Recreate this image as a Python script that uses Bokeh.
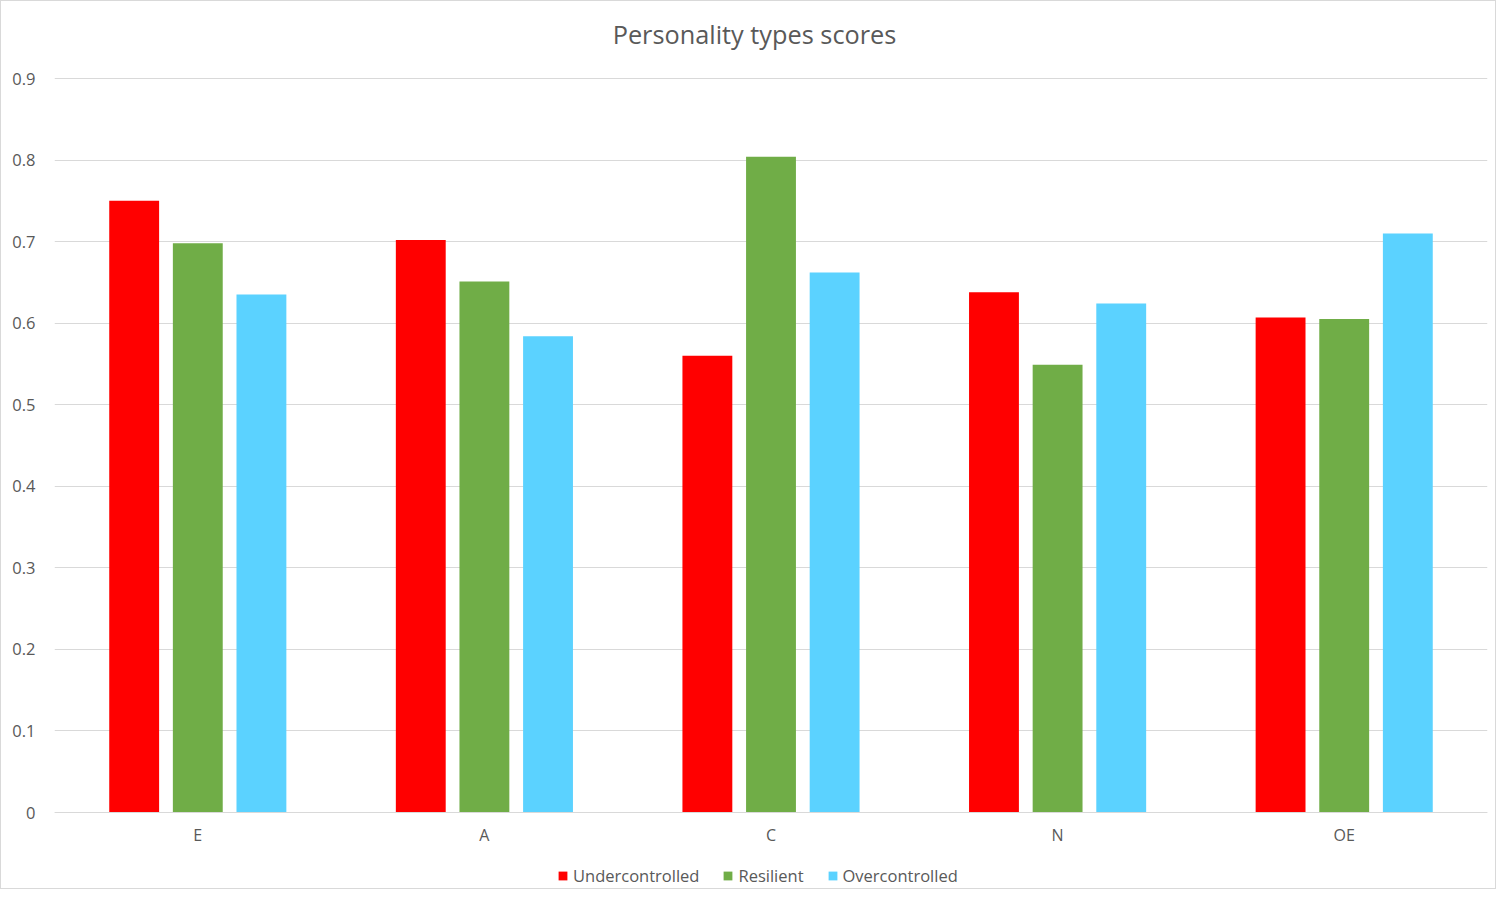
from bokeh.plotting import figure
from bokeh.models import ColumnDataSource, FactorRange, Range1d, Legend, LegendItem, FixedTicker, Label
from bokeh.transform import dodge
from bokeh.embed import file_html
from bokeh.resources import INLINE

categories = ["E", "A", "C", "N", "OE"]
undercontrolled = [0.750, 0.702, 0.560, 0.638, 0.607]
resilient = [0.698, 0.651, 0.804, 0.549, 0.605]
overcontrolled = [0.635, 0.584, 0.662, 0.624, 0.710]
series_names = ["Undercontrolled", "Resilient", "Overcontrolled"]
colors = ["#FF0000", "#70AD47", "#5BD2FF"]
title_text = "Personality types scores"
y_ticks = [0, 0.1, 0.2, 0.3, 0.4, 0.5, 0.6, 0.7, 0.8, 0.9]

src = ColumnDataSource(dict(cat=categories, u=undercontrolled, r=resilient, o=overcontrolled))

FONT = "Open Sans"
GRAY = "#595959"

# layout in page pixels: frame starts at 1px (border), 0.9 line at 78px, 0 line at 812px
FRAME_TOP, ZERO_PX, NINE_PX, H = 1, 812, 78, 887
FRAME_LEFT, FRAME_W = 54, 1433
ppu = (ZERO_PX - NINE_PX) / 0.9
y_hi = (ZERO_PX - FRAME_TOP) / ppu
y_lo = (ZERO_PX - (FRAME_TOP + H)) / ppu
px_per_cat = FRAME_W / len(categories)

p = figure(frame_width=FRAME_W, frame_height=H, x_range=FactorRange(*categories, range_padding=0),
           y_range=Range1d(y_lo, y_hi), output_backend="svg", toolbar_location=None,
           min_border_left=53, min_border_right=8, min_border_top=0, min_border_bottom=0)

renderers = []
for field, off, col in zip(["u", "r", "o"], [-0.222, 0.0, 0.222], colors):
    rr = p.vbar(x=dodge("cat", off, range=p.x_range), top=field, width=0.174, source=src,
                fill_color=col, line_color=None)
    renderers.append(rr)

# title centred on the whole chart area (page x ~754)
title = Label(x=(754 - FRAME_LEFT) / px_per_cat, y=(ZERO_PX - 33) / ppu, text=title_text,
              text_align="center", text_baseline="middle", text_font=FONT,
              text_font_size="25.3px", text_color=GRAY)
p.add_layout(title)

legend = Legend(items=[LegendItem(label=n, renderers=[r]) for n, r in zip(series_names, renderers)],
                orientation="horizontal", location=(503, 1),
                glyph_width=11, glyph_height=11, label_text_font=FONT, label_text_font_size="16.5px",
                label_text_color=GRAY, spacing=23, label_standoff=5, border_line_color=None,
                background_fill_alpha=0, padding=0, margin=0, label_height=12)
p.add_layout(legend)

p.yaxis.ticker = FixedTicker(ticks=y_ticks)
p.yaxis.axis_line_color = None
p.yaxis.major_tick_line_color = None
p.yaxis.minor_tick_line_color = None
p.yaxis.major_label_standoff = 13
p.yaxis.major_label_text_font = FONT
p.yaxis.major_label_text_font_size = "16.5px"
p.yaxis.major_label_text_color = GRAY

p.xaxis.fixed_location = 0
p.xaxis.axis_line_color = "#D9D9D9"
p.xaxis.major_tick_line_color = None
p.xaxis.minor_tick_line_color = None
p.xaxis.major_label_standoff = 5
p.xaxis.major_label_text_font = FONT
p.xaxis.major_label_text_font_size = "16px"
p.xaxis.major_label_text_color = GRAY

p.xgrid.grid_line_color = None
p.ygrid.grid_line_color = "#D9D9D9"
p.outline_line_color = None
p.styles = {"border": "1px solid #D9D9D9"}

open("out.html", "w").write(file_html(p, INLINE))
